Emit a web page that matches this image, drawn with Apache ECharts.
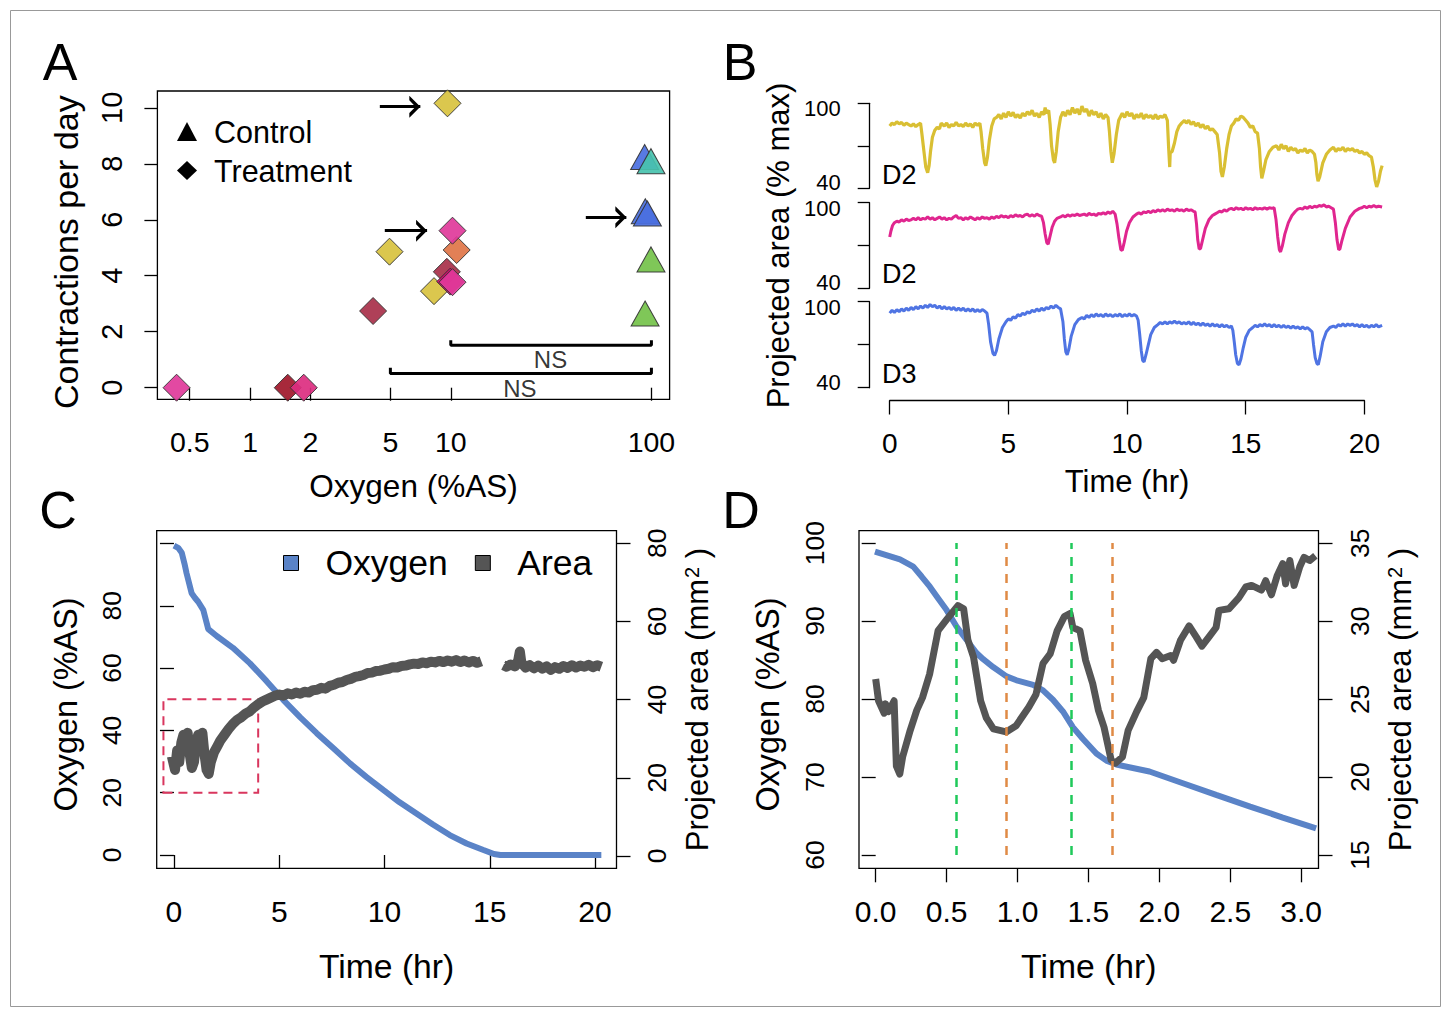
<!DOCTYPE html>
<html><head><meta charset="utf-8">
<script src="https://cdn.jsdelivr.net/npm/echarts@6/dist/echarts.min.js"></script>
<style>html,body{margin:0;padding:0;background:#fff}#c{width:1447px;height:1009px}</style>
</head><body><div id="c"></div>
<script>
// ---------------- Panel A ----------------
const treatO2   = [0.43, 1.54, 1.85, 4.1, 4.95, 8.25, 9.56, 9.94, 10.2, 10.7, 10.2, 9.63];
const treatRate = [0, 0, 0, 2.74, 4.86, 3.45, 4.14, 3.79, 3.77, 4.92, 5.61, 10.16];
const treatColors = ['#e0399a','#a0172a','#dc2e80','#a8304a','#d8c23f','#d8c23f','#a8304a','#d4086e','#e0399a','#e07548','#e0399a','#d8c23f'];
const ctrlO2   = [92.5, 99.5, 93.2, 95.5, 99.5, 93];
const ctrlRate = [8.1, 7.95, 6.16, 6.08, 4.44, 2.51];
const ctrlColors = ['#4a6fe0','#48c2ae','#4a6fe0','#4a6fe0','#74c24a','#74c24a'];
const arrowY    = [10.04, 5.61, 6.09];
const arrowFrom = [4.43, 4.69, 47.1];
const arrowTo   = [7.05, 7.62, 75];
const bracketHi = [[10,1.70],[10,1.52],[100,1.52],[100,1.70]];
const bracketLo = [[5,0.71],[5,0.51],[100,0.51],[100,0.71]];
const nsLabelPos = [[31.4, 0.99],[22.1, -0.02]];
const xTicksA = [0.5, 1, 2, 5, 10, 100];
const yTicksA = [0, 2, 4, 6, 8, 10];

// ---------------- Panel B ----------------
const traceYellow = [[0,84],[0.1,86],[0.2,85],[0.3,87],[0.4,85.5],[0.5,86.5],[0.6,84.5],[0.7,86],[0.8,85],[0.9,84],[1.0,85.5],[1.1,83.5],[1.2,85],[1.3,86],
[1.36,78],[1.45,65],[1.52,55],[1.6,51],[1.66,56],[1.72,66],[1.8,76],[1.9,81],[2.0,83],[2.1,82],[2.17,86],
[2.3,84],[2.4,86],[2.5,83],[2.6,85],[2.7,84],[2.8,86.5],[2.9,84],[3.0,85],[3.1,83.5],[3.2,86],[3.3,84],[3.4,85.5],[3.5,83],[3.6,86],[3.7,84.5],[3.8,86],
[3.85,80],[3.92,68],[4.0,58],[4.05,56],[4.12,62],[4.2,74],[4.3,84],[4.4,89],[4.5,90],
[4.6,92],[4.7,89],[4.8,93],[4.9,90],[5.0,94],[5.1,91],[5.2,93.5],[5.3,90],[5.4,92],[5.5,89.5],[5.6,93],[5.7,91],[5.8,94],[5.9,92],[6.0,95],[6.1,91],[6.2,93],[6.3,90],[6.4,94],[6.5,92],[6.55,97],[6.6,93],[6.7,95],
[6.76,85],[6.82,70],[6.9,60],[6.95,58],[7.02,66],[7.1,80],[7.2,90],[7.3,94],
[7.4,91],[7.5,95],[7.6,92],[7.7,97],[7.8,93],[7.9,96],[8.0,92],[8.1,98],[8.2,94],[8.3,96],[8.4,91],[8.5,95],[8.6,92],[8.7,94],[8.8,90],[8.9,93],[9.0,89],[9.1,92],[9.2,90],
[9.26,80],[9.32,66],[9.38,58],[9.45,64],[9.55,78],[9.65,88],[9.8,93],
[9.9,90],[10.0,94],[10.1,91],[10.2,93],[10.3,89],[10.4,92],[10.5,90],[10.6,93],[10.7,89],[10.8,92],[10.9,90],[11.0,91.5],[11.1,89],[11.2,92],[11.3,89],[11.4,91],[11.5,90],[11.6,92],[11.7,88],
[11.75,70],[11.8,55],[11.82,65],[11.9,66],[12.0,72],[12.1,80],[12.2,84],[12.3,86],[12.42,88],
[12.5,86],[12.6,88],[12.7,85],[12.8,87],[12.9,84],[13.0,86],[13.1,83],[13.2,85],[13.3,82],[13.4,84],[13.5,81],[13.6,82],[13.7,80],[13.8,78],
[13.9,65],[13.96,52],[14.02,48],[14.1,55],[14.2,68],[14.3,78],[14.4,84],[14.5,86],[14.6,89],[14.7,88],[14.8,91],[14.9,90],[15.0,88],[15.1,86],[15.2,83],[15.3,84],[15.4,80],[15.5,79],
[15.58,68],[15.63,55],[15.68,47],[15.75,52],[15.85,60],[16.0,66],[16.15,69],
[16.3,70],[16.4,67],[16.5,71],[16.6,68],[16.7,70],[16.8,66],[16.9,69],[17.0,67],[17.1,68],[17.2,65],[17.3,67],[17.4,66],[17.5,68],[17.6,65],[17.7,67],[17.8,66],[17.9,64],
[17.96,58],[18.0,50],[18.05,45],[18.12,48],[18.25,58],[18.4,64],[18.55,67],
[18.7,69],[18.8,66],[18.9,68],[19.0,67],[19.1,69],[19.2,66],[19.3,68],[19.4,67],[19.5,68],[19.6,66],[19.7,67],[19.8,65],[19.9,66],[20.0,64],[20.1,65],[20.2,63],[20.3,62],
[20.38,55],[20.45,46],[20.52,41],[20.6,45],[20.68,52],[20.75,56]];

const tracePink = [[0,76],[0.05,80],[0.12,84],[0.2,86],[0.3,87],[0.4,86.5],[0.5,88],[0.6,87],[0.7,88.5],[0.8,87.5],[0.9,88],[1.0,89],[1.1,88],[1.2,89.5],[1.3,88],[1.4,89],[1.5,88.5],[1.6,90],[1.7,88.5],[1.8,89.5],[1.9,88],[2.0,89],[2.1,90],[2.2,88.5],[2.3,89.5],[2.4,88],[2.5,89],[2.6,88.5],[2.7,90],[2.8,91],[2.9,89],[3.0,89.5],[3.1,88],[3.2,89.5],[3.3,88.5],[3.4,90],[3.5,89],[3.6,88],[3.7,89.5],[3.8,88.5],[3.9,90],[4.0,89],[4.1,89.5],[4.2,88.5],[4.3,90],[4.4,89],[4.5,90.5],[4.6,89.5],[4.7,91],[4.8,90],[4.9,90.5],[5.0,89.5],[5.1,91],[5.2,90],[5.3,91.5],[5.4,90.5],[5.5,91],[5.6,90],[5.7,91.5],[5.8,92],[5.9,90.5],[6.0,91.5],[6.1,90.5],[6.2,92],[6.3,91],[6.4,90.5],
[6.48,86],[6.55,78],[6.62,72],[6.68,71],[6.75,76],[6.85,83],[6.95,87],[7.05,89],
[7.2,90],[7.3,91],[7.4,90],[7.5,91.5],[7.6,90.5],[7.7,91.5],[7.8,91],[7.9,92],[8.0,91],[8.2,92],[8.3,91],[8.4,92.5],[8.5,91.5],[8.6,92],[8.7,91],[8.8,92.5],[8.9,92],[9.0,93],[9.1,92],[9.2,93.5],[9.3,92.5],[9.4,94],[9.5,92],
[9.58,85],[9.66,75],[9.74,67],[9.8,66.5],[9.88,72],[9.98,80],[10.1,86],[10.25,90],[10.4,92],
[10.5,93],[10.6,92],[10.7,93.5],[10.8,93],[10.9,94],[11.0,93],[11.1,94.5],[11.2,93.5],[11.3,95],[11.4,94],[11.5,95],[11.6,94],[11.7,95.5],[11.8,94.5],[11.9,95],[12.0,94],[12.1,95.5],[12.2,94.5],[12.3,95],[12.4,94],[12.5,95.5],[12.6,94.5],[12.7,95],[12.8,94],[12.87,93.5],
[12.93,85],[12.98,74],[13.04,67.5],[13.1,68],[13.2,75],[13.3,82],[13.45,88],[13.6,91],[13.7,92],
[13.8,93],[13.9,94],[14.0,93.5],[14.1,95],[14.2,94],[14.3,95.5],[14.4,96],[14.5,95],[14.6,96.5],[14.7,95.5],[14.8,96],[14.9,95],[15.0,96.5],[15.1,95.5],[15.2,96],[15.3,95],[15.4,96.5],[15.5,95.5],[15.6,96],[15.7,95.5],[15.8,96.5],[15.9,95.5],[16.0,96.5],[16.1,96],[16.2,96.5],
[16.28,88],[16.35,76],[16.42,67],[16.47,65.5],[16.55,70],[16.65,78],[16.8,86],[16.95,91],[17.1,94],
[17.2,95.5],[17.3,96],[17.4,95.5],[17.5,97],[17.6,96],[17.7,97.5],[17.8,96.5],[17.9,97.5],[18.0,97],[18.1,98],[18.2,97.5],[18.3,98.5],[18.4,97],[18.5,97.5],[18.6,96.5],[18.7,95.5],
[18.78,86],[18.85,74],[18.92,67],[18.97,67.5],[19.05,73],[19.2,82],[19.4,90],[19.6,94],[19.8,96],
[19.9,96.5],[20.0,97.5],[20.1,96.5],[20.2,97.5],[20.3,97],[20.4,98],[20.5,97],[20.6,97.5],[20.75,97]];

const traceBlue = [[0,92],[0.1,94],[0.2,92.5],[0.3,94.5],[0.4,93],[0.5,95],[0.6,93.5],[0.7,95.5],[0.8,94],[0.9,96],[1.0,94.5],[1.1,96.5],[1.2,95],[1.3,97],[1.4,95.5],[1.5,97.5],[1.6,96],[1.7,98],[1.8,96.5],[1.9,97.5],[2.0,95.5],[2.1,97],[2.2,95],[2.3,96.5],[2.4,95],[2.5,96],[2.6,94.5],[2.7,96],[2.8,94],[2.9,95.5],[3.0,94],[3.1,95.5],[3.2,93.5],[3.3,95],[3.4,93.5],[3.5,95],[3.6,93],[3.7,94.5],[3.8,93],[3.9,94.5],[4.0,93.5],[4.1,92],
[4.17,84],[4.25,72],[4.35,64],[4.42,62.5],[4.5,66],[4.6,74],[4.75,82],[4.9,86],
[5.0,88],[5.1,87],[5.2,89.5],[5.3,88.5],[5.4,91],[5.5,90],[5.6,92],[5.7,91],[5.8,93],[5.9,92],[6.0,94],[6.1,93],[6.2,95],[6.3,93.5],[6.4,95.5],[6.5,94],[6.6,96],[6.7,95],[6.8,97],[6.9,95.5],[7.0,97.5],[7.1,96],[7.2,95],
[7.3,86],[7.36,74],[7.42,65],[7.48,63],[7.55,67],[7.65,76],[7.8,84],[7.95,87.5],[8.1,89],
[8.2,88],[8.3,90.5],[8.4,89],[8.5,91],[8.6,89.5],[8.7,91.5],[8.8,90],[8.9,91],[9.0,89.5],[9.1,91.5],[9.2,90],[9.3,91],[9.4,89.5],[9.5,91],[9.6,90],[9.7,91.5],[9.8,89.5],[9.9,91],[10.0,90],[10.1,91.5],[10.2,90],[10.3,91],[10.4,90],[10.47,87],
[10.53,78],[10.6,66],[10.66,59],[10.72,58],[10.8,63],[10.9,70],[11.0,77],[11.15,82],[11.3,84],
[11.4,85.5],[11.5,84.5],[11.6,86],[11.7,84.5],[11.8,86],[11.9,85],[12.0,86.5],[12.1,85],[12.2,86],[12.3,84.5],[12.4,85.5],[12.5,84.5],[12.6,86],[12.7,84],[12.8,85.5],[12.9,84],[13.0,85],[13.1,83.5],[13.2,85],[13.3,83.5],[13.4,84.5],[13.5,83],[13.6,84.5],[13.7,83],[13.8,84],[13.9,82.5],[14.0,84],[14.1,82.5],[14.2,83.5],[14.3,82],[14.4,83],[14.46,80],
[14.52,72],[14.58,63],[14.65,57],[14.72,56],[14.8,60],[14.9,68],[15.0,75],[15.15,80],[15.3,82],
[15.4,83.5],[15.5,82.5],[15.6,84],[15.7,83],[15.8,84.5],[15.9,83],[16.0,84],[16.1,82.5],[16.2,84],[16.3,82.5],[16.4,83.5],[16.5,82],[16.6,83.5],[16.7,82],[16.8,83],[16.9,81.5],[17.0,83],[17.1,81.5],[17.2,82.5],[17.3,81],[17.4,82.5],[17.5,81],[17.6,82],[17.7,80.5],[17.8,79],
[17.86,70],[17.93,61],[18.0,57],[18.06,56],[18.14,62],[18.25,72],[18.4,79],[18.55,82],
[18.7,83],[18.8,82],[18.9,84],[19.0,83],[19.1,84.5],[19.2,83],[19.3,84.5],[19.4,83.5],[19.5,84.5],[19.6,83],[19.7,84],[19.8,82.5],[19.9,84],[20.0,82.5],[20.1,83.5],[20.2,82],[20.3,83.5],[20.4,82.5],[20.5,84],[20.6,82.5],[20.75,83.5]];
const xTicksB = [0, 5, 10, 15, 20];
const yTicksB = [40, 70, 100];
const yLabelsB = [40, 100];
const traceNames = ['D2', 'D2', 'D3'];

// ---------------- Panel C ----------------
const oxygenC = [[0,99.3],[0.2,98.6],[0.37,97],[0.5,93.5],[0.6,90.4],[0.84,84],[1.0,82.5],[1.15,81.3],[1.39,78.7],[1.63,72.5],[2.03,70.3],[2.8,66.5],[3.61,61.5],[4.4,55.8],[5.19,49.8],[6.0,44.2],[6.78,39.1],[7.6,34.1],[8.36,29.4],[9.15,25.0],[9.94,20.9],[10.7,17.0],[11.5,13.4],[12.3,9.8],[13.1,6.4],[13.9,3.7],[14.7,1.6],[15.2,0.3],[15.5,0],[20.3,0]];
const areaC1 = [[-0.1,25.5],[0.05,22],[0.15,27],[0.25,24],[0.35,29],[0.45,31],[0.55,28],[0.65,31.5],[0.75,26],[0.85,22.5],[0.95,24],[1.05,29],[1.15,31],[1.25,30],[1.35,31.5],[1.45,26],[1.55,22],[1.65,21],[1.75,24],[1.9,26.5],[2.05,28],[2.2,29.5],[2.4,31],[2.6,32.5],[2.8,33.8],[3.0,34.8],[3.2,35.5],[3.4,36.4],[3.6,37],[3.8,38],[4.0,38.8],[4.2,39.5],[4.4,40],[4.6,40.5],[4.8,41],[5.0,41.3],[5.2,41],[5.4,41.6],[5.6,41.3],[5.8,41.8],[6.0,41.5],[6.2,42],[6.4,41.8],[6.6,42.4],[6.8,42.5],[7.0,43],[7.2,42.8],[7.4,43.5],[7.6,43.8],[7.8,44.3],[8.0,44.5],[8.2,45],[8.4,45.3],[8.6,45.8],[8.8,46],[9.0,46.3],[9.2,46.8],[9.4,46.9],[9.6,47.3],[9.8,47.4],[10.0,47.7],[10.2,47.9],[10.4,48.3],[10.6,48.2],[10.8,48.6],[11.0,48.7],[11.2,49],[11.4,49.2],[11.6,49.1],[11.8,49.5],[12.0,49.3],[12.2,49.7],[12.4,49.5],[12.6,49.9],[12.8,49.6],[13.0,50],[13.2,49.7],[13.4,50.1],[13.6,49.6],[13.8,50],[14.0,49.5],[14.2,49.9],[14.4,49.4],[14.6,49.8]];
const areaC2 = [[15.65,48.8],[15.8,48.4],[16.0,49],[16.2,48.5],[16.35,50],[16.43,52.3],[16.5,49.5],[16.7,48.2],[16.9,48.8],[17.1,48],[17.3,48.7],[17.5,47.9],[17.7,48.5],[17.9,47.6],[18.1,48.3],[18.3,47.9],[18.5,48.6],[18.7,48.1],[18.9,48.8],[19.1,48.2],[19.3,48.7],[19.5,48.4],[19.7,48.9],[19.9,48.3],[20.1,48.8],[20.3,48.4]];
const dashedBoxC = [-0.5, 20, 4, 50]; // [t0, O2 low, t1, O2 high]
const xTicksC = [0, 5, 10, 15, 20];
const yTicksCLeft = [0, 20, 40, 60, 80, 100];
const yLabelsCLeft = [0, 20, 40, 60, 80];
const yTicksCRight = [0, 20, 40, 60, 80];

// ---------------- Panel D ----------------
const oxygenD = [[-0.005,98.9],[0.171,97.9],[0.265,96.97],[0.324,95.7],[0.382,94.4],[0.441,92.9],[0.5,91.4],[0.57,89.3],[0.64,87.6],[0.711,85.9],[0.758,85.1],[0.828,84.1],[0.922,82.9],[0.993,82.4],[1.11,81.8],[1.18,81.1],[1.25,79.9],[1.32,78.4],[1.39,76.4],[1.46,74.9],[1.556,73.0],[1.627,72.1],[1.697,71.6],[1.93,70.7],[2.166,69.2],[2.4,67.7],[2.64,66.2],[2.87,64.8],[3.105,63.4]];
const areaD = [[0,26.3],[0.02,24.9],[0.06,24.1],[0.07,24.7],[0.09,24.2],[0.13,24.9],[0.146,20.7],[0.17,20.2],[0.19,21.3],[0.24,22.9],[0.29,24.3],[0.33,25.1],[0.38,26.6],[0.44,29.4],[0.5,30.1],[0.58,31.0],[0.62,30.8],[0.65,28.8],[0.69,27.7],[0.74,24.9],[0.78,23.8],[0.83,23.1],[0.92,22.9],[0.99,23.3],[1.08,24.5],[1.13,25.3],[1.18,27.3],[1.23,27.9],[1.28,29.4],[1.33,30.3],[1.37,30.5],[1.39,29.6],[1.44,29.4],[1.48,27.5],[1.53,26.0],[1.57,24.3],[1.61,23.2],[1.66,21.1],[1.69,20.9],[1.74,21.3],[1.78,23.0],[1.84,24.2],[1.89,25.1],[1.94,27.6],[1.98,28.0],[2.02,27.6],[2.08,27.8],[2.1,27.5],[2.15,28.8],[2.21,29.7],[2.26,29.0],[2.3,28.4],[2.35,29.0],[2.4,29.6],[2.42,30.7],[2.49,30.8],[2.56,31.5],[2.61,32.2],[2.65,32.3],[2.72,32.0],[2.75,32.6],[2.79,31.7],[2.83,32.9],[2.87,33.7],[2.89,32.4],[2.92,33.9],[2.95,32.3],[2.99,33.5],[3.02,34.1],[3.06,33.9],[3.1,34.2]];
const vLinesD = [0.568, 0.92, 1.378, 1.67];
const vLineColorsD = ['#1fc95a', '#e08a45', '#1fc95a', '#e08a45'];
const xTicksD = [0, 0.5, 1, 1.5, 2, 2.5, 3];
const yTicksDLeft = [60, 70, 80, 90, 100];
const yTicksDRight = [15, 20, 25, 30, 35];

// ---------------- Chart ----------------
const FONT = "'Liberation Sans', Arial, Helvetica, sans-serif";
const BLUE = '#5a83c7', GRAY = '#555555';
const chevron = 'path://M8,-11 L8.01,-11 L8,-11 Z M0,11 L8,0 L16,11 L12.6,11 L8,4.8 L3.4,11 Z';

function tick(vals, len) { return {show: true, inside: false, length: len || 13, customValues: vals, lineStyle: {color: '#000', width: 1.3}}; }
function lab(vals, extra) { return Object.assign({show: true, customValues: vals, color: '#000', fontFamily: FONT, fontSize: 28}, extra || {}); }
function nm(size, extra) { return Object.assign({color: '#000', fontFamily: FONT, fontSize: size}, extra || {}); }
const noSplit = {show: false};
const lineBlack = {show: true, onZero: false, lineStyle: {color: '#000', width: 1.3}};
const gridBase = {show: true, borderColor: '#000', borderWidth: 1.3, backgroundColor: 'transparent', containLabel: false, outerBoundsMode: 'none'};

const grids = [
  Object.assign({}, gridBase, {left: 157.4, top: 91, width: 512.2, height: 308.3}),          // 0 A
  {show: false, left: 889.7, top: 103.3, width: 493.6, height: 85, outerBoundsMode: 'none'},   // 1 B1
  {show: false, left: 889.7, top: 202.7, width: 493.6, height: 85.6, outerBoundsMode: 'none'}, // 2 B2
  {show: false, left: 889.7, top: 301.7, width: 493.6, height: 86, outerBoundsMode: 'none'},   // 3 B3
  {show: false, left: 889.7, top: 399.5, width: 474.7, height: 1, outerBoundsMode: 'none'},    // 4 B x-axis
  Object.assign({}, gridBase, {left: 156.7, top: 530.7, width: 459.8, height: 337.6}),     // 5 C
  Object.assign({}, gridBase, {left: 859, top: 530.7, width: 459.5, height: 337.6})        // 6 D
];

const bYAxis = (gi, withName) => ({
  type: 'value', gridIndex: gi, min: 40, max: 100, offset: 20,
  axisLine: lineBlack, axisTick: tick(yTicksB, 12), splitLine: noSplit,
  axisLabel: lab(yLabelsB, {fontSize: 22, margin: 29,
    formatter: v => (v >= 99 ? '{d|' + v + '}' : '{u|' + v + '}'),
    rich: {d: {fontSize: 22, fontFamily: FONT, color: '#000', padding: [11, 0, 0, 0]},
           u: {fontSize: 22, fontFamily: FONT, color: '#000', padding: [0, 0, 11, 0]}}}),
  name: withName ? 'Projected area (% max)' : '', nameLocation: 'middle', nameRotate: 90, nameGap: 76,
  nameTextStyle: nm(31)
});

const xAxes = [
  {type: 'log', logBase: 10, gridIndex: 0, min: 0.345, max: 123.2, axisLine: {show: false},
   axisTick: tick(xTicksA, 13), splitLine: noSplit, minorTick: {show: false},
   axisLabel: lab(xTicksA, {fontSize: 28.5, margin: 28, formatter: v => String(+(+v).toPrecision(3))}),
   name: 'Oxygen (%AS)', nameLocation: 'middle', nameGap: 71, nameTextStyle: nm(31.5)},
  {type: 'value', gridIndex: 1, min: 0, max: 20.8, show: false},
  {type: 'value', gridIndex: 2, min: 0, max: 20.8, show: false},
  {type: 'value', gridIndex: 3, min: 0, max: 20.8, show: false},
  {type: 'value', gridIndex: 4, min: 0, max: 20, axisLine: lineBlack, position: 'bottom',
   axisTick: tick(xTicksB, 14), splitLine: noSplit,
   axisLabel: lab(xTicksB, {margin: 29}),
   name: 'Time (hr)', nameLocation: 'middle', nameGap: 65, nameTextStyle: nm(31)},
  {type: 'value', gridIndex: 5, min: -0.82, max: 21.02, axisLine: {show: false},
   axisTick: tick(xTicksC, 14), splitLine: noSplit, axisLabel: lab(xTicksC, {fontSize: 30, margin: 28}),
   name: 'Time (hr)', nameLocation: 'middle', nameGap: 81, nameTextStyle: nm(33.7)},
  {type: 'value', gridIndex: 6, min: -0.1176, max: 3.122, axisLine: {show: false},
   axisTick: tick(xTicksD, 14), splitLine: noSplit,
   axisLabel: lab(xTicksD, {fontSize: 30, margin: 28, formatter: v => (+v).toFixed(1)}),
   name: 'Time (hr)', nameLocation: 'middle', nameGap: 81, nameTextStyle: nm(33.7)}
];

const mm2Name = '{n|Projected area (mm}{s|2}{n| )}';
const mm2Style = nm(31, {
  rich: {n: {fontSize: 31, fontFamily: FONT, color: '#000'},
         s: {fontSize: 20, fontFamily: FONT, color: '#000', verticalAlign: 'top', padding: [0, 0, 10, 1]}}});

const yAxes = [
  {type: 'value', gridIndex: 0, min: -0.414, max: 10.6, axisLine: {show: false},
   axisTick: tick(yTicksA, 13), splitLine: noSplit, axisLabel: lab(yTicksA, {fontSize: 29, rotate: 90, margin: 31}),
   name: 'Contractions per day', nameLocation: 'middle', nameRotate: 90, nameGap: 74,
   nameTextStyle: nm(34, {padding: [0, 14, 0, 0]})},
  bYAxis(1, false), bYAxis(2, true), bYAxis(3, false),
  {type: 'value', gridIndex: 4, min: 0, max: 1, show: false},
  {type: 'value', gridIndex: 5, min: -4.27, max: 104.1, axisLine: {show: false},
   axisTick: tick(yTicksCLeft, 14), splitLine: noSplit, axisLabel: lab(yLabelsCLeft, {fontSize: 26.5, rotate: 90, margin: 31}),
   name: 'Oxygen (%AS)', nameLocation: 'middle', nameRotate: 90, nameGap: 74.5,
   nameTextStyle: nm(32.4, {padding: [0, 10, 0, 0]})},
  {type: 'value', gridIndex: 5, position: 'right', min: -3.15, max: 83.2, axisLine: {show: false},
   axisTick: tick(yTicksCRight, 14), splitLine: noSplit, axisLabel: lab(yTicksCRight, {fontSize: 26.5, rotate: 90, margin: 27}),
   name: mm2Name, nameLocation: 'middle', nameRotate: 90, nameGap: 65, nameTextStyle: mm2Style},
  {type: 'value', gridIndex: 6, min: 58.29, max: 101.58, axisLine: {show: false},
   axisTick: tick(yTicksDLeft, 14), splitLine: noSplit, axisLabel: lab(yTicksDLeft, {fontSize: 26.5, rotate: 90, margin: 31}),
   name: 'Oxygen (%AS)', nameLocation: 'middle', nameRotate: 90, nameGap: 75,
   nameTextStyle: nm(32.4, {padding: [0, 10, 0, 0]})},
  {type: 'value', gridIndex: 6, position: 'right', min: 14.15, max: 35.81, axisLine: {show: false},
   axisTick: tick(yTicksDRight, 14), splitLine: noSplit, axisLabel: lab(yTicksDRight, {fontSize: 26.5, rotate: 90, margin: 28}),
   name: mm2Name, nameLocation: 'middle', nameRotate: 90, nameGap: 66, nameTextStyle: mm2Style}
];

const series = [
  // Panel A
  {type: 'scatter', name: 'Treatment', xAxisIndex: 0, yAxisIndex: 0, symbol: 'diamond', symbolSize: 27, z: 4,
   itemStyle: {borderColor: '#333', borderWidth: 1, opacity: 0.92},
   data: treatO2.map((x, i) => ({value: [x, treatRate[i]], itemStyle: {color: treatColors[i]}}))},
  {type: 'scatter', name: 'Control', xAxisIndex: 0, yAxisIndex: 0, symbol: 'triangle', symbolSize: [28, 25], symbolOffset: [0, -4], z: 4,
   itemStyle: {borderColor: '#333', borderWidth: 1, opacity: 0.92},
   data: ctrlO2.map((x, i) => ({value: [x, ctrlRate[i]], itemStyle: {color: ctrlColors[i]}}))},
  {type: 'lines', name: 'arrows', coordinateSystem: 'cartesian2d', xAxisIndex: 0, yAxisIndex: 0, z: 5,
   symbol: ['none', chevron], symbolSize: [16, 22],
   lineStyle: {color: '#000', width: 3, opacity: 1},
   data: arrowY.map((y, i) => ({coords: [[arrowFrom[i], y], [arrowTo[i], y]]}))},
  {type: 'line', name: 'ns1', xAxisIndex: 0, yAxisIndex: 0, data: bracketHi, showSymbol: false, symbol: 'none',
   lineStyle: {color: '#000', width: 3}},
  {type: 'line', name: 'ns2', xAxisIndex: 0, yAxisIndex: 0, data: bracketLo, showSymbol: false, symbol: 'none',
   lineStyle: {color: '#000', width: 3}},
  {type: 'scatter', name: 'nslab', xAxisIndex: 0, yAxisIndex: 0, symbolSize: 1, itemStyle: {color: 'rgba(0,0,0,0)'},
   label: {show: true, position: 'inside', formatter: 'NS', fontSize: 24, color: '#000', fontFamily: FONT},
   data: nsLabelPos},
  // Panel B
  {type: 'line', name: 'B1', xAxisIndex: 1, yAxisIndex: 1, data: traceYellow, showSymbol: false, symbol: 'none',
   lineStyle: {color: '#d9bf33', width: 3.2}},
  {type: 'line', name: 'B2', xAxisIndex: 2, yAxisIndex: 2, data: tracePink, showSymbol: false, symbol: 'none',
   lineStyle: {color: '#e0268f', width: 3}},
  {type: 'line', name: 'B3', xAxisIndex: 3, yAxisIndex: 3, data: traceBlue, showSymbol: false, symbol: 'none',
   lineStyle: {color: '#4f74e3', width: 3}},
  {type: 'line', name: 'Bx', xAxisIndex: 4, yAxisIndex: 4, data: []},
  // Panel C
  {type: 'line', name: 'Oxygen', xAxisIndex: 5, yAxisIndex: 5, data: oxygenC, showSymbol: false, symbol: 'none',
   itemStyle: {color: BLUE}, lineStyle: {color: BLUE, width: 6}, z: 2,
   markArea: {silent: true, label: {show: false},
     itemStyle: {color: 'rgba(0,0,0,0)', borderColor: '#d9365e', borderWidth: 2, borderType: [9, 6]},
     data: [[{coord: [dashedBoxC[0], dashedBoxC[1]]}, {coord: [dashedBoxC[2], dashedBoxC[3]]}]]}},
  {type: 'line', name: 'Area', xAxisIndex: 5, yAxisIndex: 6, data: areaC1, showSymbol: false, symbol: 'none',
   itemStyle: {color: GRAY}, lineStyle: {color: GRAY, width: 10, join: 'round'}, z: 3},
  {type: 'line', name: 'Area', xAxisIndex: 5, yAxisIndex: 6, data: areaC2, showSymbol: false, symbol: 'none',
   itemStyle: {color: GRAY}, lineStyle: {color: GRAY, width: 10, join: 'round'}, z: 3},
  // Panel D
  {type: 'line', name: 'OxygenD', xAxisIndex: 6, yAxisIndex: 7, data: oxygenD, showSymbol: false, symbol: 'none',
   lineStyle: {color: BLUE, width: 6}, z: 2},
  {type: 'line', name: 'AreaD', xAxisIndex: 6, yAxisIndex: 8, data: areaD, showSymbol: false, symbol: 'none',
   lineStyle: {color: GRAY, width: 7, join: 'round'}, z: 3},
  {type: 'line', name: 'marksD', xAxisIndex: 6, yAxisIndex: 7, data: [], z: 4,
   markLine: {silent: true, symbol: ['none', 'none'], label: {show: false}, animation: false,
     lineStyle: {type: [9, 8], width: 2.5},
     data: vLinesD.map((t, i) => [
       {coord: [t, 60], lineStyle: {color: vLineColorsD[i], type: [9, 8], width: 2.5}},
       {coord: [t, 100], lineStyle: {color: vLineColorsD[i], type: [9, 8], width: 2.5}}])}}
];

const letters = [['A', 60, 62], ['B', 740, 62], ['C', 58, 510], ['D', 741, 510]];
const traceLabelPos = [[882, 175], [882, 274], [882, 374]];

const graphic = [
  {type: 'rect', shape: {x: 10.5, y: 10.5, width: 1430, height: 996}, style: {fill: 'none', stroke: '#999', lineWidth: 1}, silent: true}
].concat(letters.map(l => ({type: 'text', x: l[1], y: l[2], silent: true,
  style: {text: l[0], fontSize: 52, fontFamily: FONT, fill: '#000', align: 'center', verticalAlign: 'middle'}})))
 .concat(traceNames.map((n, i) => ({type: 'text', x: traceLabelPos[i][0], y: traceLabelPos[i][1], silent: true,
  style: {text: n, fontSize: 27, fontFamily: FONT, fill: '#000', align: 'left', verticalAlign: 'middle'}})));

const option = {
  animation: false,
  backgroundColor: '#fff',
  textStyle: {fontFamily: FONT},
  grid: grids, xAxis: xAxes, yAxis: yAxes, series: series, graphic: graphic,
  legend: [
    {data: [{name: 'Control', icon: 'triangle', itemStyle: {color: '#000', borderWidth: 0, opacity: 1}},
            {name: 'Treatment', icon: 'diamond', itemStyle: {color: '#000', borderWidth: 0, opacity: 1}}],
     orient: 'vertical', left: 172, top: 111, itemWidth: 20, itemHeight: 19, itemGap: 8, selectedMode: false,
     textStyle: {fontSize: 30.5, fontFamily: FONT, color: '#000', padding: [0, 0, 0, 12]}},
    {data: [{name: 'Oxygen', icon: 'rect', itemStyle: {color: BLUE, borderColor: '#000', borderWidth: 1}},
            {name: 'Area', icon: 'rect', itemStyle: {color: GRAY, borderColor: '#000', borderWidth: 1}}],
     orient: 'horizontal', left: 278, top: 540, itemWidth: 15, itemHeight: 15, itemGap: 27, selectedMode: false,
     textStyle: {fontSize: 35.5, fontFamily: FONT, color: '#000', padding: [0, 0, 0, 22]}}
  ]
};

const chart = echarts.init(document.getElementById('c'), null, {renderer: 'svg', width: 1447, height: 1009});
chart.setOption(option);
</script></body></html>
